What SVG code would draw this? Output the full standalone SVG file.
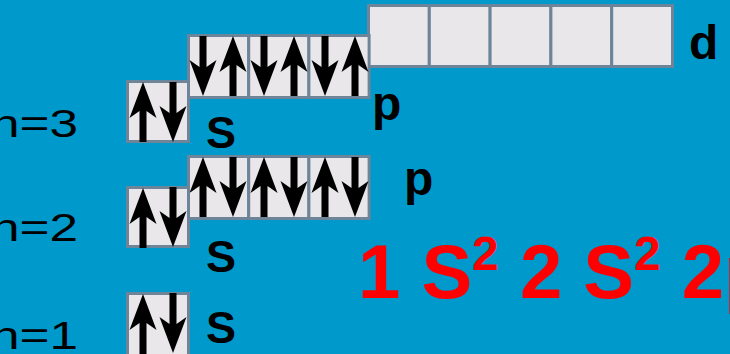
<svg xmlns="http://www.w3.org/2000/svg" width="730" height="354" viewBox="0 0 730 354">
<style>
.cell{fill:#E9E7E9;stroke:#6D8499;stroke-width:3}
.arr{fill:#000}
.nlab{font-family:"Liberation Sans",Arial,sans-serif;font-size:38px;fill:#000}
.olab{font-family:"Liberation Sans",Arial,sans-serif;font-weight:bold;fill:#000}
.cfg{font-family:"Liberation Sans",Arial,sans-serif;font-weight:bold;font-size:76px;fill:#FF0000}
</style>
<defs>
<path id="up" d="M0,0 L13.5,36 L3.5,29 L3.5,60 L-3.5,60 L-3.5,29 L-13.5,36 Z"/>
<path id="dn" d="M0,60 L13.5,24 L3.5,31 L3.5,0 L-3.5,0 L-3.5,31 L-13.5,24 Z"/>
</defs>
<rect width="730" height="354" fill="#0099CC"/>
<g id="d3">
<rect class="cell" x="368.5" y="5.5" width="60.8" height="61"/>
<rect class="cell" x="429.3" y="5.5" width="60.8" height="61"/>
<rect class="cell" x="490.1" y="5.5" width="60.8" height="61"/>
<rect class="cell" x="550.9" y="5.5" width="60.8" height="61"/>
<rect class="cell" x="611.7" y="5.5" width="60.8" height="61"/>
<text class="olab" x="689" y="59" font-size="48">d</text>
</g>
<g id="p3">
<rect class="cell" x="188.5" y="35.5" width="60.2" height="62"/>
<rect class="cell" x="248.7" y="35.5" width="60.2" height="62"/>
<rect class="cell" x="308.9" y="35.5" width="60.2" height="62"/>
<g class="arr">
<use href="#dn" x="203" y="36"/><use href="#up" x="233" y="36"/>
<use href="#dn" x="264" y="36"/><use href="#up" x="294" y="36"/>
<use href="#dn" x="325" y="36"/><use href="#up" x="355" y="36"/>
</g>
<text class="olab" x="372" y="120" font-size="48">p</text>
</g>
<g id="s3">
<rect class="cell" x="127.5" y="81.5" width="61" height="60"/>
<g class="arr"><use href="#up" x="143" y="82"/><use href="#dn" x="173" y="82"/></g>
<text class="olab" x="206" y="148" font-size="45">S</text>
</g>
<g id="p2">
<rect class="cell" x="188.5" y="156.5" width="60.2" height="62"/>
<rect class="cell" x="248.7" y="156.5" width="60.2" height="62"/>
<rect class="cell" x="308.9" y="156.5" width="60.2" height="62"/>
<g class="arr">
<use href="#up" x="203" y="157"/><use href="#dn" x="233" y="157"/>
<use href="#up" x="264" y="157"/><use href="#dn" x="294" y="157"/>
<use href="#up" x="325" y="157"/><use href="#dn" x="355" y="157"/>
</g>
<text class="olab" x="404" y="195" font-size="48">p</text>
</g>
<g id="s2">
<rect class="cell" x="127.5" y="187.5" width="61" height="59"/>
<g class="arr"><use href="#up" x="143" y="188"/><use href="#dn" x="173" y="187"/></g>
<text class="olab" x="206" y="272" font-size="45">S</text>
</g>
<g id="s1">
<rect class="cell" x="127.5" y="293.5" width="61" height="62"/>
<g class="arr"><use href="#up" x="143" y="294"/><use href="#dn" x="173" y="293"/></g>
<text class="olab" x="206" y="343" font-size="45">S</text>
</g>
<g id="labels">
<text class="nlab" transform="translate(-9,137) scale(1.35,1)">n=3</text>
<text class="nlab" transform="translate(-9,241) scale(1.35,1)">n=2</text>
<text class="nlab" transform="translate(-9,349) scale(1.35,1)">n=1</text>
</g>
<g id="config">
<text class="cfg" x="358" y="298" xml:space="preserve">1 S<tspan font-size="48" dy="-28">2</tspan><tspan dy="28"> 2 S</tspan><tspan font-size="48" dy="-28">2</tspan><tspan dy="28"> 2p</tspan></text>
</g>
</svg>
